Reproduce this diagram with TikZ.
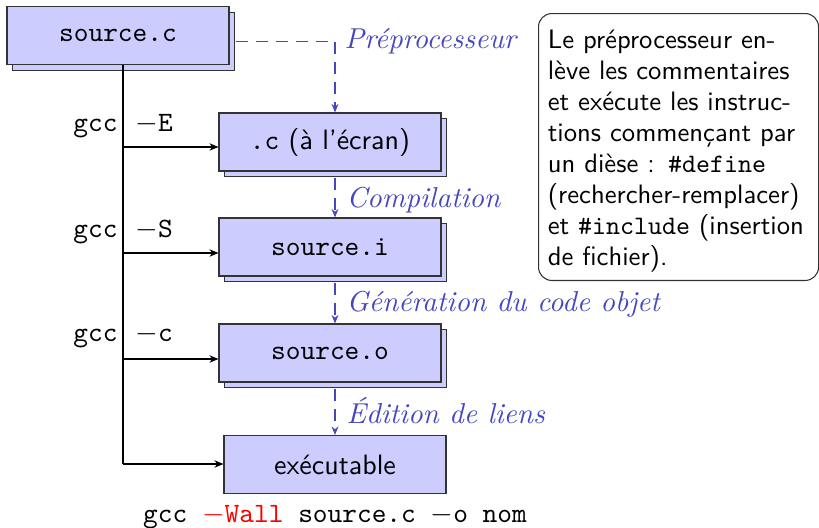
\documentclass[tikz,border=0pt]{standalone}
\usetikzlibrary{shadows,arrows.meta,calc}
\definecolor{lbl}{RGB}{70,70,190}
\definecolor{boxfill}{RGB}{204,204,255}
\tikzset{
  fbox/.style={draw=black!80, fill=boxfill, minimum width=83.25pt, minimum height=21.75pt, inner sep=0pt, font=\fontsize{10.5}{12}\selectfont},
  shbox/.style={fbox, copy shadow={shadow xshift=2.2pt, shadow yshift=-2.2pt}},
  lab/.style={text=lbl, font=\fontsize{10.8}{12}\selectfont\itshape, anchor=base west, inner sep=0pt},
  flow/.style={draw=lbl, dash pattern=on 4.5pt off 3pt, -{Stealth[length=3.2pt,width=2.6pt]}},
  cmd/.style={font=\fontsize{10.5}{12}\selectfont, inner sep=0pt},
  branch/.style={draw=black, -{Stealth[length=3.4pt,width=2.8pt]}},
  note/.style={draw=black!80, rounded corners=5pt, anchor=north west, text width=98pt, inner xsep=3.4pt, inner ysep=0pt, minimum height=100.1pt, minimum width=105pt, font=\fontsize{10}{11.6}\selectfont\sffamily}
}
\begin{document}
\begin{tikzpicture}[x=0.375pt,y=-0.375pt]
\useasboundingbox (0,0) rectangle (819,528);
% boxes
\node[shbox] (src) at (118,35.5) {\texttt{source.c}};
\node[shbox] (pre) at (330,142) {\texttt{.c} \sffamily(à l'écran)};
\node[shbox] (srci) at (330,247) {\texttt{source.i}};
\node[shbox] (srco) at (330,353) {\texttt{source.o}};
\node[fbox] (exe) at (335,464.5) {\sffamily exécutable};
% trunk
\coordinate (b1) at (123,147);
\coordinate (b2) at (123,253);
\coordinate (b3) at (123,359);
\coordinate (b4) at (123,464);
\draw (b4 |- src.south) -- (b4);
\draw[branch] (b1) -- (b1 -| pre.west);
\draw[branch] (b2) -- (b2 -| srci.west);
\draw[branch] (b3) -- (b3 -| srco.west);
\draw[branch] (b4) -- (b4 -| exe.west);
% gcc options
\node[cmd, anchor=base east] (g1) at (118,131) {\texttt{gcc}};
\node[cmd, anchor=base west] (o1) at (135,131) {$-$\texttt{E}};
\node[cmd, anchor=base east] (g2) at (118,237) {\texttt{gcc}};
\node[cmd, anchor=base west] (o2) at (135,237) {$-$\texttt{S}};
\node[cmd, anchor=base east] (g3) at (118,341) {\texttt{gcc}};
\node[cmd, anchor=base west] (o3) at (135,341) {$-$\texttt{c}};
\node[cmd, anchor=base] (full) at (335,522) {\texttt{gcc }\textcolor{red}{$-$\texttt{Wall}}\texttt{ source.c }$-$\texttt{o nom}};
% flow
\coordinate (d0) at ($(src.east)+(6,6)$);
\draw[flow] (d0) -| (exe.north |- pre.north);
\draw[flow] ($(exe.north |- pre.south)+(0,6)$) -- (exe.north |- srci.north);
\draw[flow] ($(exe.north |- srci.south)+(0,6)$) -- (exe.north |- srco.north);
\draw[flow] ($(exe.north |- srco.south)+(0,6)$) -- (exe.north);
\node[lab] (l1) at (344,48) {Préprocesseur};
\node[lab] (l2) at (346,207) {Compilation};
\node[lab] (l3) at (346,311) {Génération du code objet};
\node[lab] (l4) at (346,423) {Édition de liens};
% note
\node[note] (nt) at (538,13) {\begin{tabular}{@{}l@{}}
\rule{0pt}{10.8pt}Le préprocesseur en-\\
lève les commentaires\\
et exécute les instruc-\\
tions commençant par\\
un dièse : \texttt{\#define}\\
(rechercher-remplacer)\\
et \texttt{\#include} (insertion\\
de fichier).
\end{tabular}};
\end{tikzpicture}
\end{document}
